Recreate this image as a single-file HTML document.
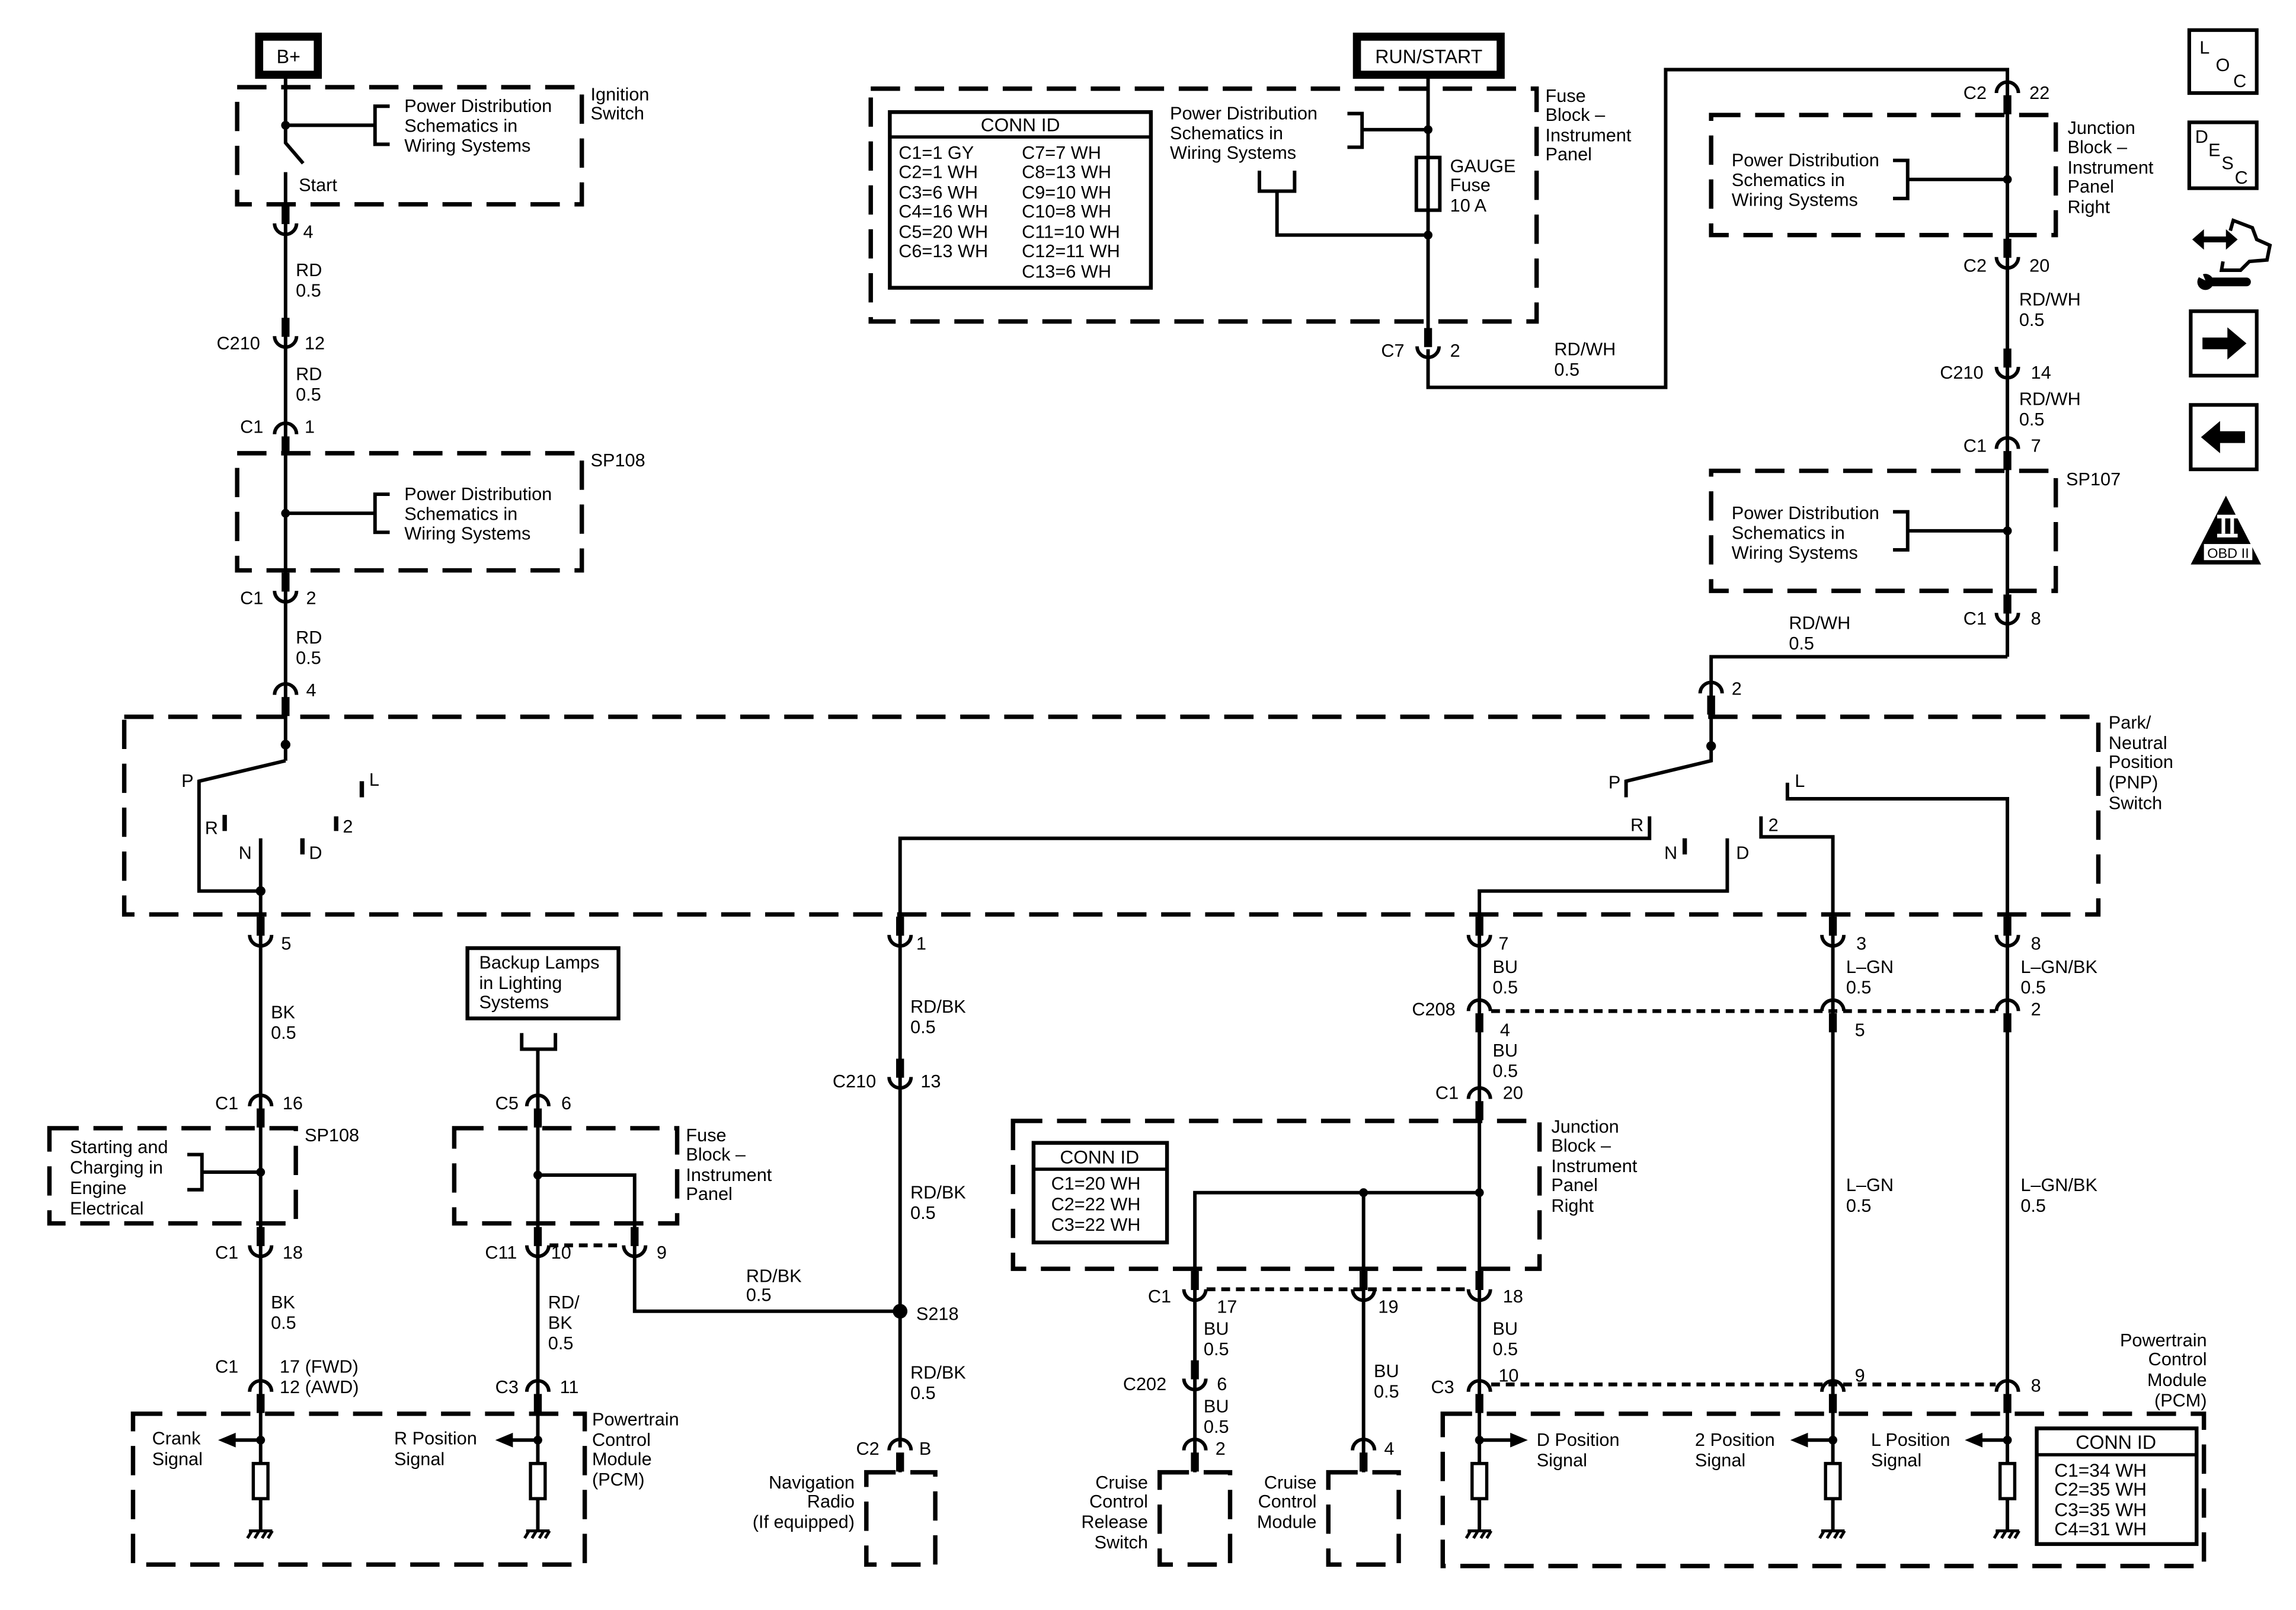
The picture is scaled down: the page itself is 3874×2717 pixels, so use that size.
<!DOCTYPE html>
<html><head><meta charset="utf-8"><style>
html,body{margin:0;padding:0;background:#fff;}
svg{display:block}
text{font-family:"Liberation Sans",Arial,sans-serif;font-size:12.4px;fill:#000}
</style></head><body>
<svg width="3874" height="2717" viewBox="0 0 1560 1094" xmlns="http://www.w3.org/2000/svg">
<defs>
<g id="U"><rect x="-2.7" y="-12.5" width="5.4" height="13"/><path d="M-7.5,0 A7.5,7.5 0 0 0 7.5,0" fill="none" stroke="#000" stroke-width="2.4"/></g>
<g id="N"><path d="M-7.5,0 A7.5,7.5 0 0 1 7.5,0" fill="none" stroke="#000" stroke-width="2.4"/><rect x="-2.7" y="1.5" width="5.4" height="13"/></g>
<g id="R"><rect x="-5" y="0" width="10" height="24" fill="#fff" stroke="#000" stroke-width="2.2"/></g>
<g id="G" stroke="#000" stroke-width="2"><line x1="-8" y1="0" x2="8" y2="0"/><line x1="-6" y1="0" x2="-9" y2="5"/><line x1="-1" y1="0" x2="-4" y2="5"/><line x1="4" y1="0" x2="1" y2="5"/><line x1="8" y1="0" x2="5" y2="5"/></g>
</defs>
<g transform="translate(0.7,0.5) scale(0.9965,0.995)">
<g fill="none" stroke="#000" stroke-width="3" stroke-dasharray="20 10">
<rect x="161" y="59" width="235" height="80"/>
<rect x="161" y="309" width="235" height="80"/>
<rect x="84" y="489" width="1346" height="135"/>
<rect x="33" y="770" width="168" height="65"/>
<rect x="309" y="770" width="152" height="65"/>
<rect x="90" y="965" width="308" height="103"/>
<rect x="590" y="1005" width="47" height="63"/>
<rect x="593" y="60" width="454" height="159"/>
<rect x="1166" y="78" width="235" height="82"/>
<rect x="1166" y="321" width="235" height="82"/>
<rect x="690" y="765" width="359" height="101"/>
<rect x="790" y="1005" width="48" height="63"/>
<rect x="905" y="1005" width="48" height="63"/>
<rect x="983" y="965" width="519" height="104"/>
</g>
<g stroke="#000" stroke-width="2.6" stroke-dasharray="6 4">
<line x1="374" y1="850" x2="424" y2="850"/>
<line x1="1016" y1="690" x2="1360" y2="690"/>
<line x1="822" y1="880" x2="1000" y2="880"/>
<line x1="1016" y1="945" x2="1360" y2="945"/>
</g>
<g fill="none" stroke="#000" stroke-width="2.4">
<polyline points="194,48 194,97 206,111"/>
<line x1="194" y1="117" x2="194" y2="519"/>
<line x1="194" y1="85" x2="255" y2="85"/>
<polyline points="265,72 255,72 255,98 265,98"/>
<line x1="194" y1="350" x2="255" y2="350"/>
<polyline points="265,337 255,337 255,363 265,363"/>
<polyline points="194,519 135,533 135,608 177,608"/>
<line x1="177" y1="572" x2="177" y2="1045"/>
<line x1="177" y1="800" x2="137" y2="800"/>
<polyline points="127,788 137,788 137,812 127,812"/>
<polyline points="355,705 355,716 378,716 378,705"/>
<line x1="366" y1="716" x2="366" y2="1045"/>
<polyline points="366,802 432,802 432,895 613,895"/>
<polyline points="1124,557 1124,572 613,572 613,988"/>
<line x1="613" y1="1000" x2="613" y2="1005"/>
<line x1="973" y1="53" x2="973" y2="107"/>
<line x1="973" y1="143" x2="973" y2="236"/>
<polyline points="973,238 973,264 1135,264 1135,47 1368,47 1368,62"/>
<line x1="973" y1="88" x2="928" y2="88"/>
<polyline points="918,77 928,77 928,100 918,100"/>
<polyline points="858,116 858,130 882,130 882,116"/>
<polyline points="870,130 870,160 973,160"/>
<line x1="1368" y1="62" x2="1368" y2="448"/>
<line x1="1368" y1="122" x2="1300" y2="122"/>
<polyline points="1290,109 1300,109 1300,135 1290,135"/>
<line x1="1368" y1="362" x2="1300" y2="362"/>
<polyline points="1290,349 1300,349 1300,375 1290,375"/>
<polyline points="1368,448 1166,448 1166,519 1108,533 1108,544"/>
<polyline points="1218,534 1218,545 1368,545 1368,1045"/>
<polyline points="1177,572 1177,608 1008,608 1008,1045"/>
<polyline points="1200,557 1200,571 1249,571 1249,1045"/>
<polyline points="1008,814 814,814 814,1005"/>
<line x1="929" y1="814" x2="929" y2="1005"/>
</g>
<g stroke="#000" stroke-width="3">
<line x1="152.5" y1="556" x2="152.5" y2="567"/>
<line x1="205.5" y1="572" x2="205.5" y2="583"/>
<line x1="228.5" y1="557" x2="228.5" y2="567"/>
<line x1="246" y1="533" x2="246" y2="544"/>
<line x1="1148" y1="572" x2="1148" y2="583"/>
</g>
<rect x="965" y="107" width="16" height="36" fill="none" stroke="#000" stroke-width="2.4"/>
<line x1="973" y1="107" x2="973" y2="143" stroke="#000" stroke-width="2.4"/>
<g>
<circle cx="194" cy="85" r="3"/><circle cx="194" cy="350" r="3"/><circle cx="194" cy="508" r="3.3"/>
<circle cx="177" cy="608" r="3.3"/><circle cx="177" cy="800" r="3"/><circle cx="366" cy="802" r="3"/>
<circle cx="613" cy="895" r="5"/><circle cx="973" cy="88" r="3"/><circle cx="973" cy="160" r="3"/>
<circle cx="1368" cy="122" r="3"/><circle cx="1368" cy="362" r="3"/><circle cx="1166" cy="509" r="3.3"/>
<circle cx="1008" cy="814" r="3"/><circle cx="929" cy="814" r="3"/>
<circle cx="177" cy="983" r="3"/><circle cx="366" cy="983" r="3"/><circle cx="1008" cy="983" r="3"/><circle cx="1249" cy="983" r="3"/><circle cx="1368" cy="983" r="3"/>
</g>
<use href="#U" x="194" y="152"/>
<use href="#U" x="194" y="229"/>
<use href="#N" x="194" y="296"/>
<use href="#U" x="194" y="403"/>
<use href="#N" x="194" y="474"/>
<use href="#U" x="177" y="638"/>
<use href="#N" x="177" y="755"/>
<use href="#U" x="177" y="850"/>
<use href="#N" x="177" y="950"/>
<use href="#N" x="366" y="755"/>
<use href="#U" x="366" y="850"/>
<use href="#U" x="432" y="850"/>
<use href="#N" x="366" y="950"/>
<use href="#U" x="613" y="638"/>
<use href="#U" x="613" y="735"/>
<use href="#N" x="613" y="990"/>
<use href="#U" x="973" y="236"/>
<use href="#N" x="1368" y="63"/>
<use href="#U" x="1368" y="175"/>
<use href="#U" x="1368" y="250"/>
<use href="#N" x="1368" y="306"/>
<use href="#U" x="1368" y="418"/>
<use href="#N" x="1166" y="473"/>
<use href="#U" x="1008" y="638"/><use href="#U" x="1249" y="638"/><use href="#U" x="1368" y="638"/>
<use href="#N" x="1008" y="690"/><use href="#N" x="1249" y="690"/><use href="#N" x="1368" y="690"/>
<use href="#N" x="1008" y="750"/>
<use href="#U" x="814" y="880"/><use href="#U" x="929" y="880"/><use href="#U" x="1008" y="880"/>
<use href="#U" x="814" y="941"/>
<use href="#N" x="814" y="990"/><use href="#N" x="929" y="990"/>
<use href="#N" x="1008" y="950"/><use href="#N" x="1249" y="950"/><use href="#N" x="1368" y="950"/>
<use href="#R" x="177" y="999"/><use href="#G" x="177" y="1045"/>
<use href="#R" x="366" y="999"/><use href="#G" x="366" y="1045"/>
<use href="#R" x="1008" y="999"/><use href="#G" x="1008" y="1045"/>
<use href="#R" x="1249" y="999"/><use href="#G" x="1249" y="1045"/>
<use href="#R" x="1368" y="999"/><use href="#G" x="1368" y="1045"/>
<g stroke="#000" stroke-width="2.4">
<line x1="177" y1="983" x2="158" y2="983"/><line x1="366" y1="983" x2="347" y2="983"/>
<line x1="1008" y1="983" x2="1030" y2="983"/><line x1="1249" y1="983" x2="1230" y2="983"/><line x1="1368" y1="983" x2="1349" y2="983"/>
</g>
<polygon points="148,983 160,978 160,988"/><polygon points="337,983 349,978 349,988"/>
<polygon points="1041,983 1029,978 1029,988"/><polygon points="1220,983 1232,978 1232,988"/><polygon points="1339,983 1351,978 1351,988"/>
<rect x="176" y="24.5" width="40" height="26" fill="none" stroke="#000" stroke-width="5.5"/>
<text x="196" y="42.5" text-anchor="middle" style="font-size:13px">B+</text>
<rect x="924.5" y="24.5" width="98" height="26" fill="none" stroke="#000" stroke-width="5.5"/>
<text x="973.5" y="42.5" text-anchor="middle" style="font-size:13px">RUN/START</text>
<rect x="318" y="647" width="103" height="48" fill="none" stroke="#000" stroke-width="2.6"/>
<rect x="606" y="76" width="178" height="120" fill="none" stroke="#000" stroke-width="2.6"/>
<line x1="606" y1="93" x2="784" y2="93" stroke="#000" stroke-width="2.2"/>
<rect x="704" y="780" width="91" height="68" fill="none" stroke="#000" stroke-width="2.6"/>
<line x1="704" y1="798" x2="795" y2="798" stroke="#000" stroke-width="2.2"/>
<rect x="1388" y="975" width="109" height="79" fill="none" stroke="#000" stroke-width="2.6"/>
<line x1="1388" y1="993" x2="1497" y2="993" stroke="#000" stroke-width="2.2"/>
<g>
<text x="402" y="68">Ignition</text><text x="402" y="81">Switch</text>
<text x="275" y="76">Power Distribution</text><text x="275" y="89.5">Schematics in</text><text x="275" y="103">Wiring Systems</text>
<text x="203" y="130">Start</text>
<text x="206" y="162">4</text>
<text x="201" y="188">RD</text><text x="201" y="202">0.5</text>
<text x="147" y="238">C210</text><text x="207" y="238">12</text>
<text x="201" y="259">RD</text><text x="201" y="273">0.5</text>
<text x="163" y="295">C1</text><text x="207" y="295">1</text>
<text x="402" y="318">SP108</text>
<text x="275" y="341">Power Distribution</text><text x="275" y="354.5">Schematics in</text><text x="275" y="368">Wiring Systems</text>
<text x="163" y="412">C1</text><text x="208" y="412">2</text>
<text x="201" y="439">RD</text><text x="201" y="453">0.5</text>
<text x="208" y="475">4</text>
<text x="123" y="537">P</text><text x="139" y="569">R</text><text x="162" y="586">N</text><text x="210" y="586">D</text><text x="233" y="568">2</text><text x="251" y="536">L</text>
<text x="1437" y="497">Park/</text><text x="1437" y="511">Neutral</text><text x="1437" y="524">Position</text><text x="1437" y="538">(PNP)</text><text x="1437" y="552">Switch</text>
<text x="1096" y="538">P</text><text x="1111" y="567">R</text><text x="1134" y="586">N</text><text x="1183" y="586">D</text><text x="1205" y="567">2</text><text x="1223" y="537">L</text>
<text x="191" y="648">5</text>
<text x="184" y="695">BK</text><text x="184" y="709">0.5</text>
<text x="146" y="757">C1</text><text x="192" y="757">16</text>
<text x="207" y="779">SP108</text>
<text x="47" y="787">Starting and</text><text x="47" y="801">Charging in</text><text x="47" y="815">Engine</text><text x="47" y="829">Electrical</text>
<text x="146" y="859">C1</text><text x="192" y="859">18</text>
<text x="184" y="893">BK</text><text x="184" y="907">0.5</text>
<text x="146" y="937">C1</text><text x="190" y="937">17 (FWD)</text><text x="190" y="951">12 (AWD)</text>
<text x="103" y="986">Crank</text><text x="103" y="1000">Signal</text>
<text x="268" y="986">R Position</text><text x="268" y="1000">Signal</text>
<text x="403" y="973">Powertrain</text><text x="403" y="987">Control</text><text x="403" y="1000">Module</text><text x="403" y="1014">(PCM)</text>
<text x="326" y="661">Backup Lamps</text><text x="326" y="675">in Lighting</text><text x="326" y="688">Systems</text>
<text x="337" y="757">C5</text><text x="382" y="757">6</text>
<text x="467" y="779">Fuse</text><text x="467" y="792">Block –</text><text x="467" y="806">Instrument</text><text x="467" y="819">Panel</text>
<text x="330" y="859">C11</text><text x="375" y="859">10</text><text x="447" y="859">9</text>
<text x="373" y="893">RD/</text><text x="373" y="907">BK</text><text x="373" y="921">0.5</text>
<text x="337" y="951">C3</text><text x="381" y="951">11</text>
<text x="508" y="875">RD/BK</text><text x="508" y="888">0.5</text>
<text x="624" y="648">1</text>
<text x="620" y="691">RD/BK</text><text x="620" y="705">0.5</text>
<text x="567" y="742">C210</text><text x="627" y="742">13</text>
<text x="620" y="818">RD/BK</text><text x="620" y="832">0.5</text>
<text x="624" y="901">S218</text>
<text x="620" y="941">RD/BK</text><text x="620" y="955">0.5</text>
<text x="583" y="993">C2</text><text x="626" y="993">B</text>
<text x="582" y="1016" text-anchor="end">Navigation</text><text x="582" y="1029" text-anchor="end">Radio</text><text x="582" y="1043" text-anchor="end">(If equipped)</text>
<text x="695" y="89" text-anchor="middle" style="font-size:12.8px">CONN ID</text>
<text x="612" y="108">C1=1 GY</text><text x="612" y="121">C2=1 WH</text><text x="612" y="135">C3=6 WH</text><text x="612" y="148">C4=16 WH</text><text x="612" y="162">C5=20 WH</text><text x="612" y="175">C6=13 WH</text>
<text x="696" y="108">C7=7 WH</text><text x="696" y="121">C8=13 WH</text><text x="696" y="135">C9=10 WH</text><text x="696" y="148">C10=8 WH</text><text x="696" y="162">C11=10 WH</text><text x="696" y="175">C12=11 WH</text><text x="696" y="189">C13=6 WH</text>
<text x="797" y="81">Power Distribution</text><text x="797" y="94.5">Schematics in</text><text x="797" y="108">Wiring Systems</text>
<text x="988" y="117">GAUGE</text><text x="988" y="130">Fuse</text><text x="988" y="144">10 A</text>
<text x="1053" y="69">Fuse</text><text x="1053" y="82">Block –</text><text x="1053" y="96">Instrument</text><text x="1053" y="109">Panel</text>
<text x="941" y="243">C7</text><text x="988" y="243">2</text>
<text x="1059" y="242">RD/WH</text><text x="1059" y="256">0.5</text>
<text x="1338" y="67">C2</text><text x="1383" y="67">22</text>
<text x="1409" y="91">Junction</text><text x="1409" y="104">Block –</text><text x="1409" y="118">Instrument</text><text x="1409" y="131">Panel</text><text x="1409" y="145">Right</text>
<text x="1180" y="113">Power Distribution</text><text x="1180" y="126.5">Schematics in</text><text x="1180" y="140">Wiring Systems</text>
<text x="1338" y="185">C2</text><text x="1383" y="185">20</text>
<text x="1376" y="208">RD/WH</text><text x="1376" y="222">0.5</text>
<text x="1322" y="258">C210</text><text x="1384" y="258">14</text>
<text x="1376" y="276">RD/WH</text><text x="1376" y="290">0.5</text>
<text x="1338" y="308">C1</text><text x="1384" y="308">7</text>
<text x="1408" y="331">SP107</text>
<text x="1180" y="354">Power Distribution</text><text x="1180" y="367.5">Schematics in</text><text x="1180" y="381">Wiring Systems</text>
<text x="1338" y="426">C1</text><text x="1384" y="426">8</text>
<text x="1219" y="429">RD/WH</text><text x="1219" y="443">0.5</text>
<text x="1180" y="474">2</text>
<text x="1021" y="648">7</text><text x="1265" y="648">3</text><text x="1384" y="648">8</text>
<text x="1017" y="664">BU</text><text x="1017" y="678">0.5</text>
<text x="1258" y="664">L–GN</text><text x="1258" y="678">0.5</text>
<text x="1377" y="664">L–GN/BK</text><text x="1377" y="678">0.5</text>
<text x="962" y="693">C208</text><text x="1022" y="707">4</text><text x="1264" y="707">5</text><text x="1384" y="693">2</text>
<text x="1017" y="721">BU</text><text x="1017" y="735">0.5</text>
<text x="978" y="750">C1</text><text x="1024" y="750">20</text>
<text x="1057" y="773">Junction</text><text x="1057" y="786">Block –</text><text x="1057" y="800">Instrument</text><text x="1057" y="813">Panel</text><text x="1057" y="827">Right</text>
<text x="749" y="794" text-anchor="middle" style="font-size:12.8px">CONN ID</text>
<text x="716" y="812">C1=20 WH</text><text x="716" y="826">C2=22 WH</text><text x="716" y="840">C3=22 WH</text>
<text x="1258" y="813">L–GN</text><text x="1258" y="827">0.5</text>
<text x="1377" y="813">L–GN/BK</text><text x="1377" y="827">0.5</text>
<text x="782" y="889">C1</text><text x="829" y="896">17</text><text x="939" y="896">19</text><text x="1024" y="889">18</text>
<text x="820" y="911">BU</text><text x="820" y="925">0.5</text>
<text x="1017" y="911">BU</text><text x="1017" y="925">0.5</text>
<text x="936" y="940">BU</text><text x="936" y="954">0.5</text>
<text x="765" y="949">C202</text><text x="829" y="949">6</text>
<text x="820" y="964">BU</text><text x="820" y="978">0.5</text>
<text x="828" y="993">2</text><text x="943" y="993">4</text>
<text x="782" y="1016" text-anchor="end">Cruise</text><text x="782" y="1029" text-anchor="end">Control</text><text x="782" y="1043" text-anchor="end">Release</text><text x="782" y="1057" text-anchor="end">Switch</text>
<text x="897" y="1016" text-anchor="end">Cruise</text><text x="897" y="1029" text-anchor="end">Control</text><text x="897" y="1043" text-anchor="end">Module</text>
<text x="975" y="951">C3</text><text x="1021" y="943">10</text><text x="1264" y="943">9</text><text x="1384" y="950">8</text>
<text x="1504" y="919" text-anchor="end">Powertrain</text><text x="1504" y="932" text-anchor="end">Control</text><text x="1504" y="946" text-anchor="end">Module</text><text x="1504" y="960" text-anchor="end">(PCM)</text>
<text x="1047" y="987">D Position</text><text x="1047" y="1001">Signal</text>
<text x="1155" y="987">2 Position</text><text x="1155" y="1001">Signal</text>
<text x="1275" y="987">L Position</text><text x="1275" y="1001">Signal</text>
<text x="1442" y="989" text-anchor="middle" style="font-size:13px">CONN ID</text>
<text x="1400" y="1008" style="font-size:12.8px">C1=34 WH</text><text x="1400" y="1021" style="font-size:12.8px">C2=35 WH</text><text x="1400" y="1035" style="font-size:12.8px">C3=35 WH</text><text x="1400" y="1048" style="font-size:12.8px">C4=31 WH</text>
</g>
<rect x="1492" y="20" width="46" height="43" fill="none" stroke="#000" stroke-width="2.5"/>
<text x="1499" y="36">L</text><text x="1510" y="48">O</text><text x="1522" y="59">C</text>
<rect x="1492" y="83" width="46" height="45" fill="none" stroke="#000" stroke-width="2.5"/>
<text x="1496" y="97">D</text><text x="1505" y="106">E</text><text x="1514" y="115">S</text><text x="1523" y="125">C</text>
<polygon points="1494,163 1502,156 1502,161 1517,161 1517,156 1525,163 1517,170 1517,165 1502,165 1502,170"/>
<polyline points="1520,157 1522,150 1535,155 1538,163 1547,167 1545,177 1533,178 1527,184 1514,184 1515,178" fill="none" stroke="#000" stroke-width="2.4"/>
<circle cx="1503" cy="192" r="5.5"/>
<rect x="1503" y="189" width="31" height="6" rx="3"/>
<polygon points="1497,188 1503,191 1501,186" fill="#fff"/>
<rect x="1493" y="212" width="45" height="44" fill="none" stroke="#000" stroke-width="2.5"/>
<polygon points="1501,230 1518,230 1518,223 1531,234 1518,245 1518,238 1501,238"/>
<rect x="1493" y="276" width="45" height="44" fill="none" stroke="#000" stroke-width="2.5"/>
<polygon points="1530,294 1513,294 1513,287 1500,298 1513,309 1513,302 1530,302"/>
<polygon points="1517,338 1493,385 1541,385"/>
<rect x="1511" y="351" width="14" height="2.5" fill="#fff"/><rect x="1511" y="364" width="14" height="2.5" fill="#fff"/>
<rect x="1514" y="353" width="2.5" height="11" fill="#fff"/><rect x="1520" y="353" width="2.5" height="11" fill="#fff"/>
<rect x="1502" y="371" width="33" height="11" fill="#fff"/>
<text x="1518.5" y="380.5" text-anchor="middle" style="font-size:9.5px">OBD II</text>
</g>
</svg>
</body></html>
